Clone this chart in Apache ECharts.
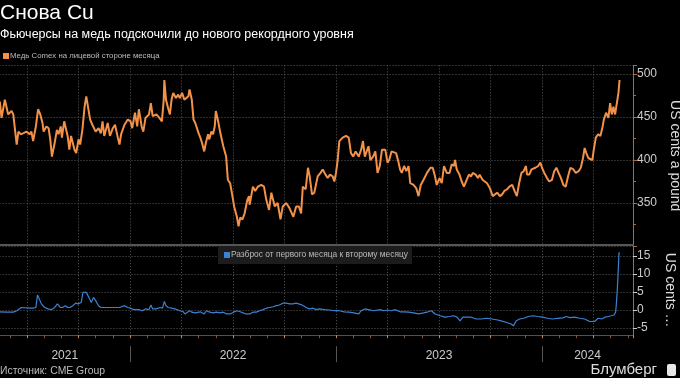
<!DOCTYPE html>
<html><head><meta charset="utf-8">
<script src="https://cdn.jsdelivr.net/npm/echarts@6/dist/echarts.min.js"></script>
<style>html,body{margin:0;padding:0;background:#000;}#c{width:680px;height:378px;}</style>
</head><body><div id="c"></div>
<script>
// Day offsets counted from START_DATE
const START_DATE = [2021, 4, 14]; // 14 May 2021 (UTC, month 0-based)
const copperName = 'Медь Comex на лицевой стороне месяца';
const spreadName = 'Разброс от первого месяца к второму месяцу';

const copperDays = [0,3,9,15,21,24,30,33,37,41,47,53,56,59,64,68,72,76,78,83,87,90,93,98,102,105,109,111,115,121,124,127,133,136,140,143,147,151,154,157,161,165,171,176,180,183,186,192,196,201,205,210,213,216,222,228,233,236,241,245,248,253,256,260,266,269,272,278,283,287,290,291,294,298,301,304,307,312,316,319,323,327,330,334,336,340,343,346,352,355,358,362,365,369,371,375,378,381,383,387,391,396,401,404,408,412,415,420,423,426,430,434,439,442,443,449,453,458,464,469,473,478,482,488,493,498,502,508,514,521,526,531,
535,538,543,547,550,554,558,564,569,573,578,582,586,591,594,597,600,603,609,615,620,624,628,632,637,641,644,647,650,653,656,661,665,669,673,677,683,687,690,694,697,702,706,709,712,716,720,724,727,733,738,742,746,751,757,763,767,771,774,779,783,787,792,797,801,805,807,810,815,819,823,828,832,836,839,844,848,851,856,860,864,869,874,878,882,887,891,895,900,904,909,913,917,921,925,929,933,935,939,943,946,950,955,959,962,966,971,975,980,984,988,992,996,1000,1004,1008,1012,1017,1021,1026,1030,1034,1037,1040,1044,1047,1051,1053,1057,1061,1065,1069,1071,1075,1079,1082,1085,1088,1091,1094,1097,1099];
const copperCents = [468,449,470,453,457,453,418,433,430,431,433,430,433,422,439,459,453,443,433,439,437,424,404,420,435,430,439,426,445,428,412,428,412,408,424,418,435,462,474,472,447,441,433,437,431,445,428,443,428,437,441,426,418,430,441,447,445,437,455,439,459,439,433,449,453,466,451,453,449,445,470,493,470,460,453,470,478,472,476,472,478,470,468,474,482,470,447,443,431,426,420,410,420,430,424,433,430,439,457,445,431,416,404,377,373,358,346,334,323,333,331,338,354,358,348,369,364,369,371,369,354,342,362,346,350,331,346,350,344,334,346,346,
338,369,366,391,381,360,362,381,385,389,383,379,383,381,375,385,400,422,426,428,426,408,404,410,404,412,422,404,410,416,400,404,410,385,393,412,412,397,400,410,412,408,398,389,385,393,387,393,373,371,367,358,371,377,385,391,391,381,371,379,373,393,385,385,395,393,400,389,383,375,369,377,383,381,385,383,379,383,377,375,373,367,358,360,362,358,360,364,366,369,371,364,358,373,385,387,393,383,383,389,387,391,393,397,391,385,379,375,377,387,391,385,379,371,369,381,391,389,385,387,391,402,414,408,402,404,400,410,426,430,428,439,447,455,449,466,453,462,453,455,478,493];

const spreadDays = [0,12,24,30,38,41,53,59,64,67,70,74,80,86,92,98,103,108,112,117,121,125,130,135,139,145,148,154,157,160,163,167,171,176,180,186,195,204,213,222,228,233,239,248,254,260,266,269,272,278,284,288,291,294,298,304,310,319,325,328,331,336,340,346,355,362,366,372,378,384,390,396,402,408,414,420,426,431,437,443,449,455,461,467,473,479,485,491,496,502,508,514,520,526,529,535,538,544,550,556,561,567,576,585,594,603,612,621,629,637,641,647,653,662,674,680,687,694,700,709,716,724,733,742,751,759,765,771,780,789,797,804,810,816,821,827,836,845,854,863,872,881,889,898,907,911,916,922,929,937,946,954,963,972,981,990,999,1005,1011,1019,1028,1037,1046,1055,1061,1067,1073,1079,1084,1089,1092,1093,1095,1097,1098,1099];
const spreadCents = [-0.5,-0.6,-0.6,-0.2,0.7,0.3,0.5,0.5,0.7,4.2,3.1,1.7,0.7,0.3,0.1,0.7,1.7,0.7,0.7,1.2,0.7,0.7,1.2,1.9,1.7,2.1,4.9,4.9,4.9,3.1,2.1,3.5,2.6,1.2,0.7,0.7,0.7,0.7,0.7,1.2,0.7,0.5,0.1,0.1,-0.2,0.3,0.1,1.4,0.3,0.3,0.7,0.5,2.4,1.2,0.7,0.5,0.3,-0.2,-0.5,-1.1,-0.6,-0.2,-0.6,-0.8,-0.5,-1.1,-0.2,-0.6,-0.8,-0.6,-0.8,-0.6,-1.1,-1.1,-0.6,-0.2,-0.5,-0.8,-1.1,-1.1,-0.6,-0.6,-0.2,0.1,0.5,0.7,0.9,1.2,1.4,1.9,1.9,1.7,1.7,1.9,2.1,1.5,1.2,0.7,0.3,0.5,0.1,0.3,0.1,0,-0.2,-0.2,-0.5,-0.6,-0.8,-1.1,-0.2,0.3,0.1,-0.2,0.1,-0.2,0,-0.2,0.1,-0.5,-0.5,-0.6,-0.8,-1.1,-0.8,-0.5,-0.2,-1.1,-1.6,-2.0,-1.8,-1.6,-1.9,-3.0,-2.0,-2.0,-2.0,-2.5,-2.5,-2.3,-2.5,-2.7,-3.0,-3.4,-3.9,-4.4,-3.0,-2.5,-2.3,-1.8,-1.6,-1.8,-2.0,-2.3,-2.5,-2.3,-2.2,-1.8,-2.1,-2.0,-2.3,-2.5,-3.2,-3.2,-2.3,-2.5,-2.0,-1.8,-1.6,-1.4,-0.6,1.2,5.8,12.3,16.0,15.6];

const yearLabels = ['2021','2022','2023','2024'];
const yearLabelMonths = [8.2, 18, 30, 38.65];
const yearBoundaryMonths = [12, 24, 36];
const spreadTicks = [-5, 0, 5, 10, 15];

// convert day offset to fractional months since Jan 2021
function toMonth(off) {
  const t = Date.UTC(START_DATE[0], START_DATE[1], START_DATE[2]) + off * 86400000;
  const dt = new Date(t);
  const y = dt.getUTCFullYear(), m = dt.getUTCMonth(), d = dt.getUTCDate();
  const dim = new Date(Date.UTC(y, m + 1, 0)).getUTCDate();
  return (y - 2021) * 12 + m + (d - 1) / dim;
}

const X_MIN = 3, X_MAX = 41.3;
const gridColor = '#5a5a5a';
const gridDash = [1, 2];
const axisOrange = '#b8672f';
const sans = '"Liberation Sans", Arial, sans-serif';

const chart = echarts.init(document.getElementById('c'), null, {renderer: 'canvas'});
chart.setOption({
  backgroundColor: '#000',
  animation: false,
  textStyle: {fontFamily: sans},
  title: [
    {text: 'Снова Cu', subtext: 'Фьючерсы на медь подскочили до нового рекордного уровня',
     left: 0, top: 2, padding: 0, itemGap: 3,
     textStyle: {color: '#fff', fontSize: 21, fontWeight: 'normal', fontFamily: sans, lineHeight: 22},
     subtextStyle: {color: '#fff', fontSize: 12.5, fontFamily: sans, lineHeight: 16}},
    {text: 'Источник: CME Group', left: 0, top: 366, padding: 0,
     textStyle: {color: '#bbb', fontSize: 10.4, fontWeight: 'normal', fontFamily: sans}},
    {text: 'Блумберг', right: 23, top: 362, padding: 0,
     textStyle: {color: '#ddd', fontSize: 15, fontWeight: 'normal', fontFamily: sans}}
  ],
  legend: [
    {data: [copperName], left: 3, top: 52, itemWidth: 6, itemHeight: 6, icon: 'rect', padding: 0,
     textStyle: {color: '#bbb', fontSize: 7.8, fontFamily: sans, padding: [0, 0, 0, -4]}},
    {data: [spreadName], left: 218, top: 246, itemWidth: 6, itemHeight: 6, icon: 'rect',
     padding: [5, 4, 5, 6], backgroundColor: '#1c1c1c',
     textStyle: {color: '#bbb', fontSize: 8.4, fontFamily: sans, padding: [0, 0, 0, -4]}}
  ],
  graphic: [
    {type: 'rect', left: 667, top: 364, shape: {width: 9, height: 12, r: 2}, style: {fill: '#e8e8e8'}}
  ],
  grid: [
    {left: -24.5, width: 657.5, top: 65.4, height: 180.6, outerBoundsMode: 'none'},
    {left: -24.5, width: 657.5, top: 245.2, height: 90, outerBoundsMode: 'none'},
    {left: -24.5, width: 657.5, top: 245.2, height: 90, outerBoundsMode: 'none'}
  ],
  xAxis: [
    {gridIndex: 0, type: 'value', min: X_MIN, max: X_MAX, interval: 3,
     axisLine: {show: false, onZero: false}, axisTick: {show: false}, axisLabel: {show: false},
     splitLine: {show: true, lineStyle: {color: gridColor, type: gridDash}}},
    {gridIndex: 1, type: 'value', position: 'bottom', min: X_MIN, max: X_MAX, interval: 3,
     axisLine: {show: true, onZero: false, lineStyle: {color: '#7a4526'}},
     axisTick: {show: true, length: 3, lineStyle: {color: '#c98a5a'}},
     minorTick: {show: true, splitNumber: 3, length: 3, lineStyle: {color: '#8a5535'}},
     axisLabel: {show: false},
     splitLine: {show: true, lineStyle: {color: gridColor, type: gridDash}}},
    {gridIndex: 1, type: 'value', position: 'top', min: X_MIN, max: X_MAX,
     axisLine: {show: true, onZero: false, lineStyle: {color: '#555', width: 2}},
     axisTick: {show: false}, axisLabel: {show: false}, splitLine: {show: false}},
    {gridIndex: 2, type: 'value', position: 'bottom', offset: 11, min: X_MIN, max: X_MAX,
     axisLine: {show: false, onZero: false},
     axisTick: {show: true, customValues: yearBoundaryMonths, length: 16, lineStyle: {color: '#555'}},
     axisLabel: {show: true, customValues: yearLabelMonths, margin: 3, color: '#ccc', fontSize: 12,
       formatter: v => { const i = yearLabelMonths.findIndex(m => Math.abs(m - v) < 0.01); return i >= 0 ? yearLabels[i] : ''; }},
     splitLine: {show: false}}
  ],
  yAxis: [
    {gridIndex: 0, type: 'value', position: 'right', min: 300, max: 510, interval: 50,
     axisLine: {show: true, lineStyle: {color: axisOrange}},
     axisTick: {show: true, length: 4, lineStyle: {color: axisOrange}},
     minorTick: {show: true, splitNumber: 2, length: 3, lineStyle: {color: axisOrange}},
     axisLabel: {color: '#ccc', fontSize: 12, margin: 4,
       formatter: v => (v >= 350 && v <= 500) ? String(v) : ''},
     splitLine: {show: true, lineStyle: {color: gridColor, type: gridDash}},
     name: 'US cents a pound', nameLocation: 'middle', nameRotate: -90, nameGap: 30,
     nameTextStyle: {color: '#ddd', fontSize: 14}},
    {gridIndex: 1, type: 'value', position: 'right', min: -7, max: 18,
     axisLine: {show: true, lineStyle: {color: axisOrange}},
     axisTick: {show: true, length: 4, customValues: spreadTicks, lineStyle: {color: '#ccc'}},
     axisLabel: {color: '#ccc', fontSize: 12, margin: 4, customValues: spreadTicks},
     splitLine: {show: true, lineStyle: {color: gridColor, type: gridDash}},
     name: 'US cents a pound', nameLocation: 'middle', nameRotate: -90, nameGap: 30,
     nameTruncate: {maxWidth: 82, ellipsis: '…'},
     nameTextStyle: {color: '#ddd', fontSize: 14}},
    {gridIndex: 2, type: 'value', show: false, min: -7, max: 18}
  ],
  series: [
    {type: 'line', name: copperName, xAxisIndex: 0, yAxisIndex: 0, showSymbol: false, symbol: 'none',
     data: copperDays.map((d, i) => [toMonth(d), copperCents[i]]),
     lineStyle: {color: '#f39149', width: 2}, itemStyle: {color: '#f39149'}},
    {type: 'line', name: spreadName, xAxisIndex: 1, yAxisIndex: 1, showSymbol: false, symbol: 'none',
     data: spreadDays.map((d, i) => [toMonth(d), spreadCents[i]]),
     lineStyle: {color: '#3b82d6', width: 1.2}, itemStyle: {color: '#3b82d6'}}
  ]
});
</script>
</body></html>
